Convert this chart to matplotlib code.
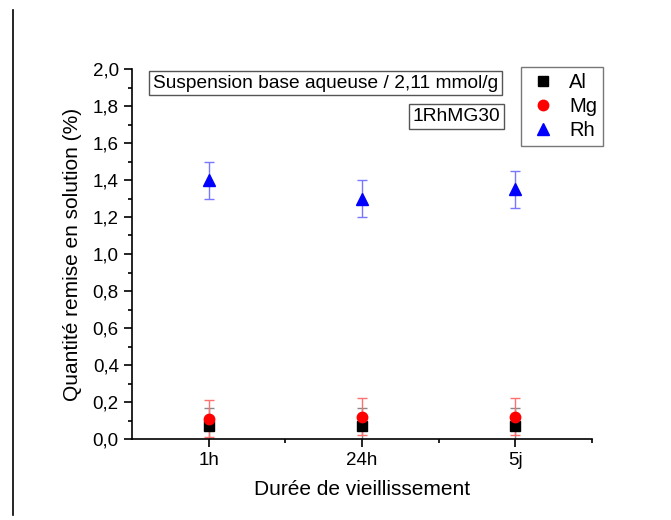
import matplotlib
matplotlib.use('Agg')
import numpy as np
import matplotlib.pyplot as plt
from matplotlib.lines import Line2D
from matplotlib.ticker import MultipleLocator, FixedLocator, FuncFormatter

plt.rcParams['font.family'] = ['Liberation Sans', 'DejaVu Sans']

# data
durations = ['1h', '24h', '5j']
al_values = [0.07, 0.07, 0.07]
al_errors = [0.10, 0.10, 0.10]
mg_values = [0.11, 0.12, 0.12]
mg_errors = [0.10, 0.10, 0.10]
rh_values = [1.40, 1.30, 1.35]
rh_errors = [0.10, 0.10, 0.10]

x = np.arange(1, len(durations) + 1)

fig = plt.figure(figsize=(6.71, 5.2), dpi=100)
ax = fig.add_axes([132 / 671, 1 - 439 / 520, 460 / 671, 370 / 520])

# error bars first, markers on top
ax.errorbar(x, al_values, yerr=al_errors, fmt='none', ecolor='#888888',
            elinewidth=1, capsize=3.5, capthick=1)
ax.errorbar(x, mg_values, yerr=mg_errors, fmt='none', ecolor='#ff7070',
            elinewidth=1, capsize=3.5, capthick=1)
ax.errorbar(x, rh_values, yerr=rh_errors, fmt='none', ecolor='#7777ff',
            elinewidth=1, capsize=3.5, capthick=1)

ax.plot(x, al_values, 's', color='black', markersize=6.5, label='Al')
ax.plot(x, mg_values, 'o', color='red', markersize=7.5, label='Mg')
ax.plot(x, rh_values, '^', color='blue', markersize=8, label='Rh')

ax.set_xlim(0.5, 3.5)
ax.set_ylim(0, 2.0)
ax.set_xticks(x)
ax.set_xticklabels(durations)
ax.xaxis.set_minor_locator(FixedLocator([1.5, 2.5, 3.5]))
ax.yaxis.set_major_locator(MultipleLocator(0.2))
ax.yaxis.set_minor_locator(MultipleLocator(0.1))
ax.yaxis.set_major_formatter(FuncFormatter(lambda v, p: f'{v:.1f}'.replace('.', ',')))

for side in ['top', 'right']:
    ax.spines[side].set_visible(False)
for side in ['left', 'bottom']:
    ax.spines[side].set_linewidth(1.2)

ax.tick_params(which='major', direction='out', length=6, width=1.2, labelsize=13.5)
ax.tick_params(which='minor', direction='out', length=3, width=1.2)

ax.set_xlabel('Durée de vieillissement', fontsize=15, labelpad=8)
ax.set_ylabel('Quantité remise en solution (%)', fontsize=15, labelpad=8)

box = dict(boxstyle='square,pad=0.2', facecolor='white', edgecolor='#555555', linewidth=1)
ax.text(0.045, 0.985, 'Suspension base aqueuse / 2,11 mmol/g', transform=ax.transAxes,
        fontsize=13.8, va='top', ha='left', bbox=box)
ax.text(0.80, 0.895, '1RhMG30', transform=ax.transAxes,
        fontsize=13.8, va='top', ha='right', bbox=box)

leg = ax.legend(loc='upper left', bbox_to_anchor=(0.845, 1.005), fontsize=14.5,
                frameon=True, fancybox=False, edgecolor='#555555',
                handletextpad=0.5, borderpad=0.3, labelspacing=0.25,
                handlelength=1.6, borderaxespad=0)
leg.get_frame().set_linewidth(1)

fig.add_artist(Line2D([13 / 671, 13 / 671], [1 - 10 / 520, 1 - 515 / 520],
                      color='black', linewidth=1.2))

fig.savefig('out.png', dpi=100)
